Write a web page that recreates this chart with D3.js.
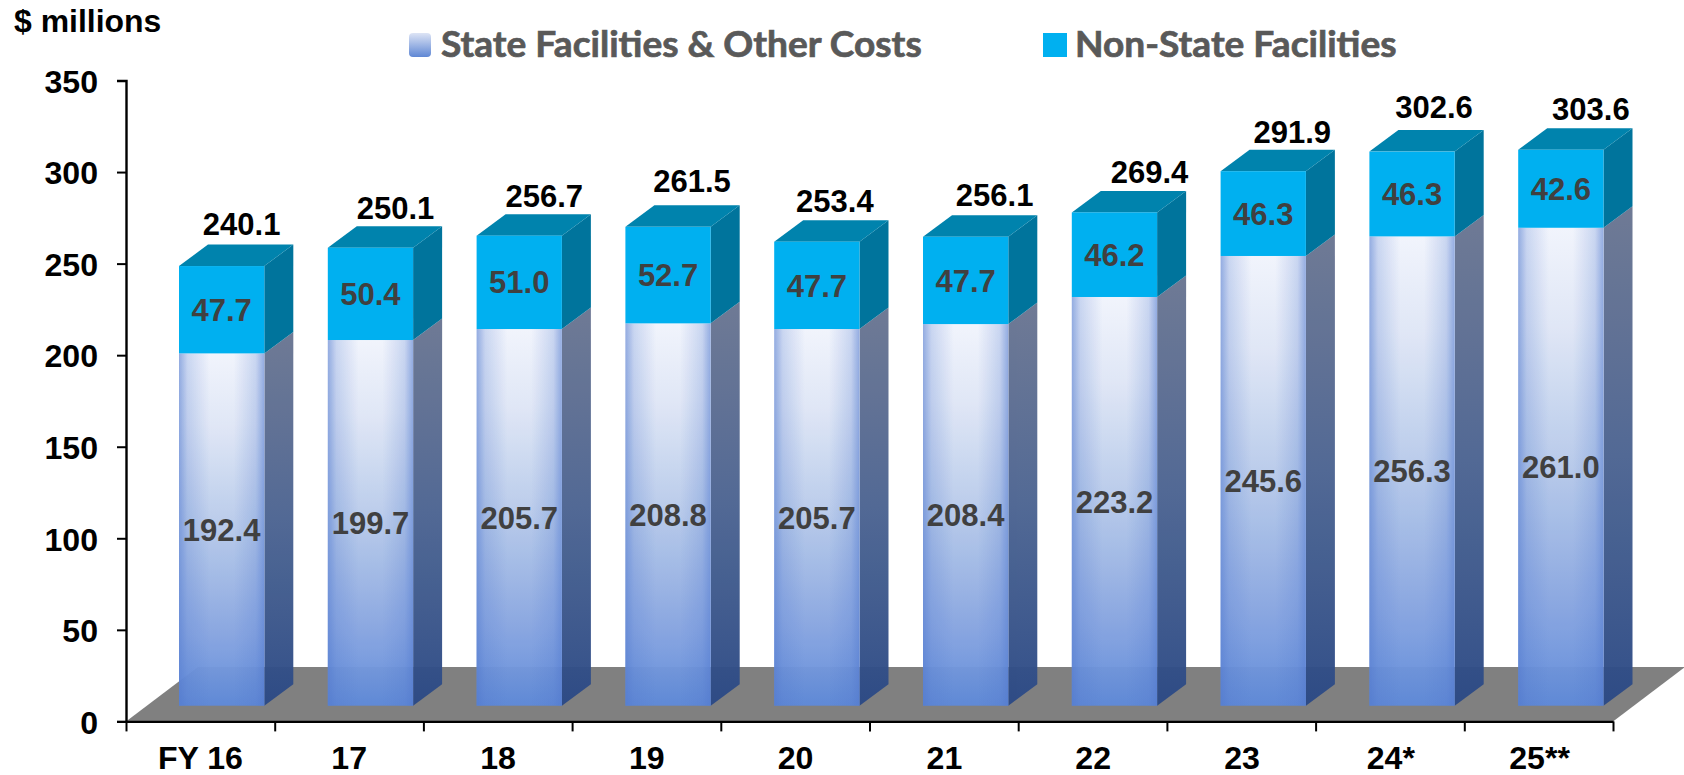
<!DOCTYPE html>
<html><head><meta charset="utf-8">
<style>html,body{margin:0;padding:0;background:#fff}svg{display:block}
text{font-family:"Liberation Sans",Arial,sans-serif;font-weight:700}</style>
<script src="https://cdn.jsdelivr.net/npm/d3@7"></script></head><body>
<svg id="c" width="1684" height="775"></svg>
<script>
const categories = ["FY 16","17","18","19","20","21","22","23","24*","25**"];
const stateCosts = [192.4,199.7,205.7,208.8,205.7,208.4,223.2,245.6,256.3,261.0];
const nonStateCosts = [47.7,50.4,51.0,52.7,47.7,47.7,46.2,46.3,46.3,42.6];
const totals = [240.1,250.1,256.7,261.5,253.4,256.1,269.4,291.9,302.6,303.6];
const yTicks = [0,50,100,150,200,250,300,350];
const legendLabels = ["State Facilities & Other Costs","Non-State Facilities"];
// hand placement of the total labels relative to each bar's top (layout only)
const totalNudgeX = [20,25,25,24,18,29,35,29,22,30];
const totalNudgeY = [-42,-40,-40,-46,-41,-42,-41,-39,-45,-41];

const svg = d3.select("#c");
const y = d3.scaleLinear().domain([0,350]).range([721.4,80.5]);
const x = d3.scaleBand().domain(categories).range([126,1614]);
const depth = {dx:29, dy:-21.5}, floorDepth = {dx:72, dy:-54.5};
const baseLift = 15.7, frontInset = 53, frontW = 85.3;
const yb = v => y(v) - baseLift;
const line = d3.line();

// widen glyphs a little without making them taller
function stretch(sel,k){
  sel.each(function(){
    this.setAttribute("textLength",this.getComputedTextLength()*k);
    this.setAttribute("lengthAdjust","spacingAndGlyphs");
  });
  return sel;
}

const defs = svg.append("defs");
function grad(id, x2, y2, stops){
  const g = defs.append("linearGradient").attr("id",id).attr("x1",0).attr("y1",0).attr("x2",x2).attr("y2",y2);
  stops.forEach(s=>g.append("stop").attr("offset",s[0]).attr("stop-color",s[1]).attr("stop-opacity",s[2]===undefined?1:s[2]));
}
grad("frontV",0,1,[[0,"#f1f4fc"],[0.2,"#e0e7f6"],[0.5,"#b6c9ea"],[0.8,"#86a4e0"],[1,"#5f8ad9"]]);
grad("frontH",1,0,[[0,"#4f78cf",0.6],[0.1,"#4f78cf",0.25],[0.36,"#4f78cf",0],[0.64,"#4f78cf",0],[0.9,"#4f78cf",0.25],[1,"#4f78cf",0.6]]);
grad("sideV",0,1,[[0,"#6b7692"],[0.5,"#4d6592"],[1,"#2c4a86"]]);
grad("legendV",0,1,[[0,"#dde4f5"],[1,"#5f87d4"]]);

// floor
svg.append("path").attr("fill","#808080")
  .attr("d", line([[x.range()[0],y(0)],[x.range()[0]+floorDepth.dx,y(0)+floorDepth.dy],
                   [x.range()[1]+floorDepth.dx-1,y(0)+floorDepth.dy],[x.range()[1]-1,y(0)]])+"Z");

// bars
const bars = svg.append("g").selectAll("g").data(categories).join("g");
bars.each(function(c,i){
  const g = d3.select(this), L = x(c)+frontInset, R = L+frontW;
  const y0 = yb(0), y1 = yb(stateCosts[i]), y2 = yb(totals[i]);
  const lower = g.append("g").attr("opacity",0.97);
  lower.append("path").attr("fill","url(#sideV)")
    .attr("d",line([[R,y0],[R+depth.dx,y0+depth.dy],[R+depth.dx,y1+depth.dy],[R,y1]])+"Z");
  lower.append("rect").attr("x",L).attr("y",y1).attr("width",frontW).attr("height",y0-y1).attr("fill","url(#frontV)");
  lower.append("rect").attr("x",L).attr("y",y1).attr("width",frontW).attr("height",y0-y1).attr("fill","url(#frontH)");
  g.append("path").attr("fill","#00749c")
    .attr("d",line([[R,y1],[R+depth.dx,y1+depth.dy],[R+depth.dx,y2+depth.dy],[R,y2]])+"Z");
  g.append("path").attr("fill","#0083ad")
    .attr("d",line([[L,y2],[L+depth.dx,y2+depth.dy],[R+depth.dx,y2+depth.dy],[R,y2]])+"Z");
  g.append("rect").attr("x",L).attr("y",y2).attr("width",frontW).attr("height",y1-y2).attr("fill","#00b0f0");
});

// axes
const axY = svg.append("g").attr("transform",`translate(${x.range()[0]},0)`)
  .call(d3.axisLeft(y).tickValues(yTicks).tickSize(9).tickPadding(19));
const axX = svg.append("g").attr("transform",`translate(0,${y(0)})`)
  .call(d3.axisBottom(x).tickSize(0).tickPadding(26));
axX.select(".domain").remove();
const edges = d3.scaleLinear().domain([0,categories.length]).range([x.range()[0],x.range()[1]-1]);
const axE = svg.append("g").attr("transform",`translate(0,${y(0)})`)
  .call(d3.axisBottom(edges).tickValues(d3.range(categories.length+1)).tickSize(10).tickSizeOuter(0).tickFormat(""));
svg.selectAll(".domain").attr("stroke","#000").attr("stroke-width",2.4);
svg.selectAll(".tick line").attr("stroke","#000").attr("stroke-width",2);
axY.attr("font-family",null); axX.attr("font-family",null); axE.attr("font-family",null);
stretch(axY.selectAll("text").attr("font-size",31).attr("fill","#000").attr("dy","0.38em"),1.035);
stretch(axX.selectAll("text").attr("font-size",31).attr("fill","#000"),1.035);

// value labels
const lab = svg.append("g").attr("text-anchor","middle");
categories.forEach((c,i)=>{
  const cx = x(c)+frontInset+frontW/2;
  lab.append("text").attr("x",cx).attr("y",yb(stateCosts[i]/2)).attr("dy","0.36em")
    .attr("font-size",31).attr("fill","#404040").text(stateCosts[i].toFixed(1));
  lab.append("text").attr("x",cx).attr("y",yb(stateCosts[i]+nonStateCosts[i]/2)).attr("dy","0.36em")
    .attr("font-size",31).attr("fill","#404040").text(nonStateCosts[i].toFixed(1));
  lab.append("text").attr("x",cx+totalNudgeX[i]).attr("y",yb(totals[i])+totalNudgeY[i]).attr("dy","0.36em")
    .attr("font-size",31).attr("fill","#000").text(totals[i].toFixed(1));
});

stretch(svg.append("text").attr("x",14).attr("y",32).attr("font-size",31).attr("fill","#000").text("$ millions"),1.03);

// legend
svg.append("rect").attr("x",409).attr("y",33).attr("width",22).attr("height",24).attr("rx",4).attr("fill","url(#legendV)");
svg.append("rect").attr("x",1043).attr("y",33).attr("width",24).attr("height",24).attr("fill","#00b0f0");
[[441,0],[1075,1]].forEach(([px,k])=>{
  stretch(svg.append("text").attr("x",px).attr("y",57).attr("font-size",36).attr("fill","#595959")
    .attr("stroke","#595959").attr("stroke-width",0.7)
    .style("font-family","Lato").text(legendLabels[k]),1.03);
});
</script></body></html>
